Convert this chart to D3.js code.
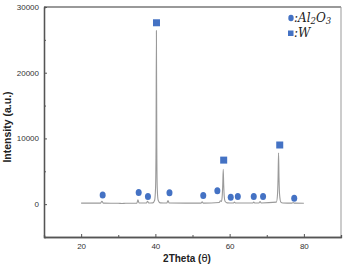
<!DOCTYPE html>
<html><head><meta charset="utf-8">
<script src="https://cdn.jsdelivr.net/npm/d3@7"></script>
<style>html,body{margin:0;padding:0;background:#fff;}svg{display:block;}</style>
</head><body>
<script>
// XRD trace
const twoTheta = [20.0,25.2,25.6,26.0,30.0,31.0,32.0,35.0,35.3,35.6,37.6,37.9,38.2,39.3,39.8,40.05,40.18,40.28,40.38,40.5,40.75,41.3,43.1,43.4,43.7,52.3,52.6,52.9,57.2,57.5,57.8,58.0,58.15,58.28,58.4,58.55,58.8,59.3,61.0,61.3,61.6,66.2,66.5,66.8,67.9,68.2,68.5,72.6,72.9,73.05,73.18,73.3,73.45,73.8,74.3,76.8,77.1,77.4,80.0];
const intensity = [150,150,450,150,130,90,130,150,650,180,180,450,170,200,600,2500,9000,26400,9000,2500,600,200,170,550,170,160,350,160,250,500,400,1200,3000,5300,3000,1200,400,200,170,300,170,170,300,170,180,400,180,300,1500,4000,7800,4000,1500,300,180,150,250,150,130];
// phase markers
const al2o3Theta = [25.8,35.5,38.0,43.8,52.9,56.7,60.3,62.2,66.5,69.0,77.4];
const al2o3Y = [1400,1760,1160,1720,1310,2020,1060,1160,1160,1160,900];
const wTheta = [40.3,58.4,73.5];
const wY = [27600,6700,9000];
const xTicks = [20,40,60,80];
const yTicks = [0,10000,20000,30000];

const W = 344, H = 265;
const m = {l:44, r:3, t:7, b:28};
const svg = d3.select("body").append("svg").attr("width",W).attr("height",H);
const x = d3.scaleLinear().domain([10,90]).range([m.l, W-m.r]);
const y = d3.scaleLinear().domain([-5000,30000]).range([H-m.b, m.t]);

// frame top / right
svg.append("line").attr("x1",m.l).attr("x2",W-m.r).attr("y1",m.t).attr("y2",m.t).attr("stroke","#777").attr("stroke-width",1.3);
svg.append("line").attr("x1",W-m.r).attr("x2",W-m.r).attr("y1",m.t).attr("y2",H-m.b).attr("stroke","#999").attr("stroke-width",1);

// axes
const tickFont = "'Liberation Sans', Arial, sans-serif";
const yAx = svg.append("g").attr("transform",`translate(${m.l},0)`)
  .call(d3.axisLeft(y).tickValues(yTicks).tickSizeInner(-3).tickSizeOuter(0).tickPadding(5).tickFormat(d3.format("d")));
const yMinor = svg.append("g").attr("transform",`translate(${m.l},0)`)
  .call(d3.axisLeft(y).tickValues([25000,15000,5000]).tickSize(-2).tickFormat(""));
const xAx = svg.append("g").attr("transform",`translate(0,${H-m.b})`)
  .call(d3.axisBottom(x).tickValues(xTicks).tickSizeInner(-3).tickSizeOuter(0).tickPadding(6));
const xMinor = svg.append("g").attr("transform",`translate(0,${H-m.b})`)
  .call(d3.axisBottom(x).tickValues([30,50,70]).tickSize(-2).tickFormat(""));
[yAx,yMinor,xAx,xMinor].forEach(g=>{
  g.select(".domain").attr("stroke","#555").attr("stroke-width",1.3);
  g.selectAll(".tick line").attr("stroke","#555");
  g.selectAll("text").attr("font-family",tickFont).attr("font-size","8px").attr("fill","#333");
});

// trace
const pts = twoTheta.map((t,i)=>[t,intensity[i]]);
svg.append("path").datum(pts)
  .attr("d", d3.line().x(d=>x(d[0])).y(d=>y(d[1])).curve(d3.curveMonotoneX))
  .attr("fill","none").attr("stroke","#9a9a9a").attr("stroke-width",1.1);

// markers
const blue = "#4472c4";
svg.selectAll("ellipse.al").data(al2o3Theta).join("ellipse")
  .attr("cx",(d)=>x(d)).attr("cy",(d,i)=>y(al2o3Y[i])).attr("rx",3).attr("ry",3.5).attr("fill",blue);
svg.selectAll("rect.w").data(wTheta).join("rect")
  .attr("x",d=>x(d)-3.5).attr("y",(d,i)=>y(wY[i])-3.5).attr("width",7).attr("height",7).attr("fill",blue);

// legend
svg.append("ellipse").attr("cx",291).attr("cy",18).attr("rx",2.7).attr("ry",3.3).attr("fill",blue);
svg.append("rect").attr("x",288).attr("y",30.5).attr("width",5.5).attr("height",5.5).attr("fill",blue);
const lf = "'DejaVu Serif', 'Liberation Serif', serif";
const t1 = svg.append("text").attr("x",294).attr("y",22).attr("font-family",lf).attr("font-style","italic").attr("font-size","12px").attr("fill","#222");
t1.append("tspan").text(":Al");
t1.append("tspan").attr("font-size","8.5px").attr("dy",2).text("2");
t1.append("tspan").attr("dy",-2).text("O");
t1.append("tspan").attr("font-size","8.5px").attr("dy",2).text("3");
svg.append("text").attr("x",294).attr("y",37).attr("font-family",lf).attr("font-style","italic").attr("font-size","12px").attr("fill","#222").text(":W");

// axis titles
svg.append("text").attr("transform",`translate(11,127) rotate(-90)`).attr("text-anchor","middle")
  .attr("font-family",tickFont).attr("font-weight","bold").attr("font-size","10.5px").attr("fill","#222").text("Intensity (a.u.)");
const xt = svg.append("text").attr("x",187).attr("y",262).attr("text-anchor","middle")
  .attr("font-family",tickFont).attr("font-weight","bold").attr("font-size","10px").attr("fill","#222");
xt.append("tspan").text("2Theta (");
xt.append("tspan").attr("font-weight","normal").attr("font-family","'DejaVu Sans', sans-serif").text("θ");
xt.append("tspan").text(")");
</script>
</body></html>
